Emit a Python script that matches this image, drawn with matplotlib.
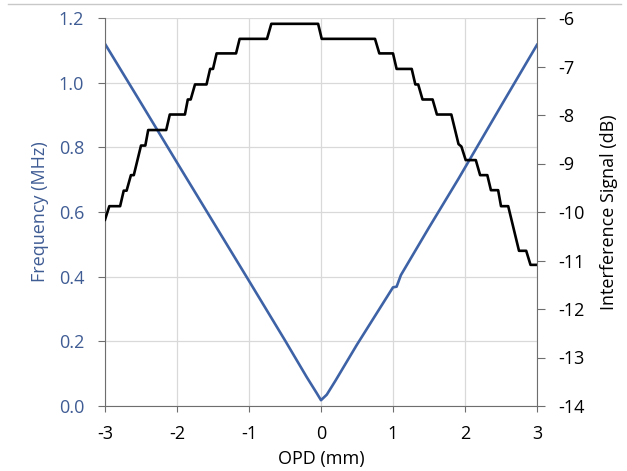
import matplotlib
matplotlib.use("Agg")
import matplotlib.pyplot as plt
from matplotlib.lines import Line2D

plt.rcParams['font.family'] = ['Open Sans', 'DejaVu Sans']

# frequency vs OPD (blue, left axis)
opd_f = [-3.0, -2.5, -2.0, -1.5, -1.0, -0.5, -0.2, -0.06, 0.0, 0.08, 0.2,
         0.5, 0.63, 1.0, 1.05, 1.11, 1.5, 1.91, 2.5, 3.0]
freq = [1.12, 0.937, 0.753, 0.57, 0.387, 0.203, 0.09, 0.04, 0.018, 0.035, 0.078,
        0.19, 0.236, 0.367, 0.369, 0.405, 0.552, 0.703, 0.928, 1.117]

# interference signal vs OPD (black staircase, right axis)
opd_s = [-3.0, -2.94, -2.79, -2.74, -2.70, -2.64, -2.60, -2.50, -2.44, -2.40,
         -2.15, -2.10, -1.89, -1.85, -1.81, -1.75, -1.59, -1.54, -1.50, -1.45,
         -1.18, -1.13, -0.75, -0.69, -0.04, 0.01, 0.75, 0.81, 1.00, 1.05,
         1.26, 1.31, 1.35, 1.41, 1.55, 1.61, 1.81, 1.91, 1.95, 2.01,
         2.15, 2.21, 2.31, 2.36, 2.46, 2.50, 2.60, 2.75, 2.85, 2.91, 3.0]
sig = [-10.16, -9.88, -9.88, -9.56, -9.56, -9.24, -9.24, -8.63, -8.63, -8.31,
       -8.31, -7.99, -7.99, -7.68, -7.68, -7.37, -7.37, -7.05, -7.05, -6.73,
       -6.73, -6.43, -6.43, -6.12, -6.12, -6.43, -6.43, -6.73, -6.73, -7.05,
       -7.05, -7.37, -7.37, -7.68, -7.68, -7.99, -7.99, -8.60, -8.65, -8.93,
       -8.93, -9.24, -9.24, -9.55, -9.55, -9.88, -9.88, -10.8, -10.8, -11.09, -11.09]

xticks = [-3, -2, -1, 0, 1, 2, 3]
fticks = [0.0, 0.2, 0.4, 0.6, 0.8, 1.0, 1.2]
sticks = [-14, -13, -12, -11, -10, -9, -8, -7, -6]

blue = '#3E62A6'
blue_txt = '#3F5C94'
grid_c = '#D9D9D9'
spine_c = '#6E6E6E'
fs = 13

fig = plt.figure(figsize=(6.27, 4.71), dpi=100)
ax = fig.add_axes([105/627, 1-406/471, (537-105)/627, (406-18)/471])
ax2 = ax.twinx()

ax.plot(opd_f, freq, color=blue, lw=1.9)
ax2.plot(opd_s, sig, color='black', lw=1.9)

ax.set_xlim(-3, 3)
ax.set_ylim(0, 1.2)
ax2.set_ylim(-14, -6)
ax.set_xticks(xticks)
ax.set_xticklabels([str(t) for t in xticks])
ax.set_yticks(fticks)
ax.set_yticklabels([f"{t:.1f}" for t in fticks])
ax2.set_yticks(sticks)
ax2.set_yticklabels([str(t) for t in sticks])

ax.grid(True, color=grid_c, lw=0.9)
ax.set_axisbelow(True)

for a in (ax, ax2):
    a.spines['top'].set_visible(False)
    for s in ('left', 'right', 'bottom'):
        a.spines[s].set_color(spine_c)
ax.spines['right'].set_visible(False)
ax2.spines['left'].set_visible(False)
ax2.spines['bottom'].set_visible(False)

ax.tick_params(axis='y', colors=spine_c, labelcolor=blue_txt, labelsize=fs, length=5, pad=10)
ax.tick_params(axis='x', colors=spine_c, labelcolor='black', labelsize=fs, length=4.5, pad=9)
ax2.tick_params(axis='y', colors=spine_c, labelcolor='black', labelsize=fs, length=6, pad=9)

ax.set_xlabel("OPD (mm)", fontsize=fs, labelpad=5)
ax.set_ylabel("Frequency (MHz)", fontsize=fs, color=blue_txt, labelpad=7)
ax2.set_ylabel("Interference Signal (dB)", fontsize=fs, labelpad=11)

fig.add_artist(Line2D([0.013, 0.99], [1-4/471, 1-4/471], color='#C8C8C8', lw=1))

fig.savefig("out.png", dpi=100)
